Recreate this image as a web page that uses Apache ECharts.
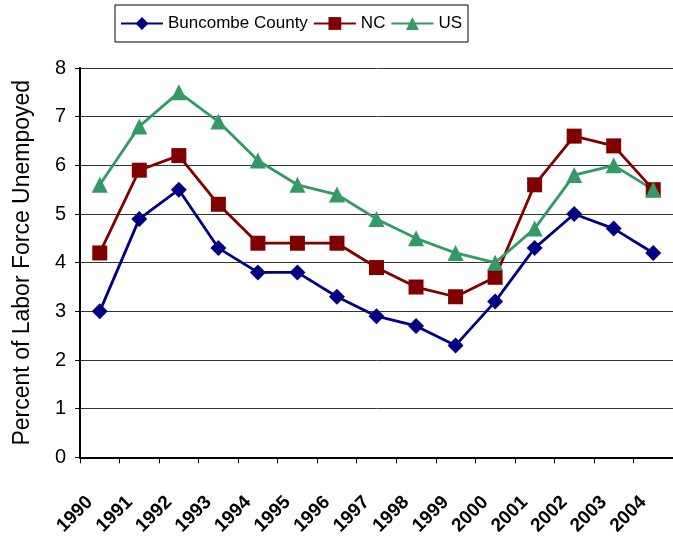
<!DOCTYPE html>
<html lang="en">
<head>
	<meta charset="UTF-8">
	<title>Unemployment</title>
	<style>
		html,body{margin:0;padding:0;background:#fff;}
		#main{width:673px;height:538px;}
	</style>
</head>
<body>
	<div id="main"></div>
	<script src="https://cdn.jsdelivr.net/npm/echarts@6/dist/echarts.min.js"></script>
	<script>
		// years on x axis
		var years = ['1990','1991','1992','1993','1994','1995','1996','1997','1998','1999','2000','2001','2002','2003','2004'];
		// percent unemployed
		var buncombe = [3.0, 4.9, 5.5, 4.3, 3.8, 3.8, 3.3, 2.9, 2.7, 2.3, 3.2, 4.3, 5.0, 4.7, 4.2];
		var nc = [4.2, 5.9, 6.2, 5.2, 4.4, 4.4, 4.4, 3.9, 3.5, 3.3, 3.7, 5.6, 6.6, 6.4, 5.5];
		var us = [5.6, 6.8, 7.5, 6.9, 6.1, 5.6, 5.4, 4.9, 4.5, 4.2, 4.0, 4.7, 5.8, 6.0, 5.5];
		var yTicks = [0, 8, 1]; // min, max, step

		var font = 'Arial, "Liberation Sans", sans-serif';

		function mkSeries(name, data, color, symbol, size) {
			return {
				name: name,
				type: 'line',
				data: data,
				symbol: symbol,
				symbolSize: size,
				lineStyle: {color: color, width: 2.8},
				itemStyle: {color: color},
				animation: false
			};
		}

		var myChart = echarts.init(document.getElementById('main'));
		var option = {
			textStyle: {fontFamily: font},
			legend: {
				left: 115,
				top: 5,
				padding: [10, 6, 10, 5],
				itemGap: 5,
				itemWidth: 42,
				itemHeight: 16,
				borderColor: '#000',
				borderWidth: 1,
				textStyle: {fontSize: 17, color: '#000'},
				data: ['Buncombe County', 'NC', 'US']
			},
			grid: {left: 80, right: -2, top: 68, bottom: 79, containLabel: false},
			xAxis: {
				type: 'category',
				data: years,
				boundaryGap: true,
				axisLine: {lineStyle: {color: '#000', width: 2}},
				axisTick: {show: true, length: 6, lineStyle: {color: '#000', width: 1}},
				axisLabel: {rotate: 45, margin: 32, padding: [0, 14, 0, 0], fontSize: 19, fontWeight: 'bold', color: '#000', interval: 0}
			},
			yAxis: {
				type: 'value',
				min: yTicks[0],
				max: yTicks[1],
				interval: yTicks[2],
				name: 'Percent of Labor Force Unempoyed',
				nameLocation: 'middle',
				nameGap: 46,
				nameTextStyle: {fontSize: 23, color: '#000'},
				axisLine: {show: true, lineStyle: {color: '#000', width: 2}},
				axisTick: {show: true, length: 5, lineStyle: {color: '#000'}},
				axisLabel: {fontSize: 20, color: '#000', margin: 14},
				splitLine: {lineStyle: {color: '#333', width: 1}}
			},
			series: [
				mkSeries('Buncombe County', buncombe, '#000080', 'diamond', 16),
				mkSeries('NC', nc, '#800000', 'rect', 15),
				mkSeries('US', us, '#339966', 'triangle', 16)
			]
		};
		myChart.setOption(option);
	</script>
</body>
</html>
